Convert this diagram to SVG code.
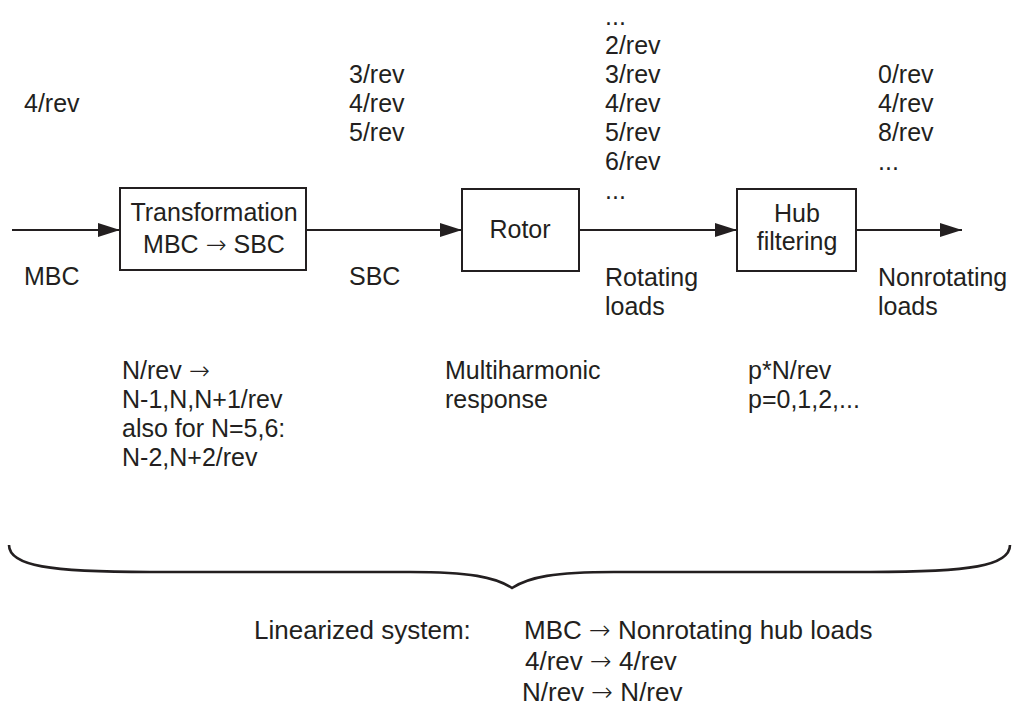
<svg xmlns="http://www.w3.org/2000/svg" width="1013" height="709" viewBox="0 0 1013 709">
<style>
text{font-family:"Liberation Sans",Arial,sans-serif;font-size:25px;fill:#231f20}
.c{text-anchor:middle}
.ar{font-family:"DejaVu Sans",sans-serif;font-weight:200}
.s{font-size:26px}
.box{fill:#fff;stroke:#231f20;stroke-width:2}
.ln{stroke:#231f20;stroke-width:2;fill:none}
</style>
<defs>
<marker id="ah" markerWidth="22" markerHeight="14" refX="22" refY="7" orient="auto" markerUnits="userSpaceOnUse">
<path d="M0,0 L22,7 L0,14 Z" fill="#231f20"/>
</marker>
</defs>
<rect width="1013" height="709" fill="#fff"/>
<g id="connectors">
<line class="ln" x1="12" y1="230" x2="120" y2="230" marker-end="url(#ah)"/>
<line class="ln" x1="306" y1="230" x2="462" y2="230" marker-end="url(#ah)"/>
<line class="ln" x1="579" y1="230" x2="737" y2="230" marker-end="url(#ah)"/>
<line class="ln" x1="856" y1="230" x2="962" y2="230" marker-end="url(#ah)"/>
</g>
<g id="transformation">
<rect class="box" x="120" y="188" width="186" height="82"/>
<text class="c" x="214" y="221">Transformation</text>
<text class="c" x="214" y="253">MBC <tspan class="ar">→</tspan> SBC</text>
</g>
<g id="rotor">
<rect class="box" x="462" y="189" width="117" height="82"/>
<text class="c" x="520" y="238">Rotor</text>
</g>
<g id="hub">
<rect class="box" x="737" y="189" width="119" height="82"/>
<text class="c" x="797" y="222">Hub</text>
<text class="c" x="797" y="250">filtering</text>
</g>
<g id="labels">
<text x="24" y="112">4/rev</text>
<text x="24" y="285">MBC</text>
<text x="349" y="83">3/rev</text>
<text x="349" y="112">4/rev</text>
<text x="349" y="141">5/rev</text>
<text x="349" y="285">SBC</text>
<text x="605" y="25">...</text>
<text x="605" y="54">2/rev</text>
<text x="605" y="83">3/rev</text>
<text x="605" y="112">4/rev</text>
<text x="605" y="141">5/rev</text>
<text x="605" y="170">6/rev</text>
<text x="605" y="199">...</text>
<text x="605" y="286">Rotating</text>
<text x="605" y="315">loads</text>
<text x="878" y="83">0/rev</text>
<text x="878" y="112">4/rev</text>
<text x="878" y="141">8/rev</text>
<text x="878" y="170">...</text>
<text x="878" y="286">Nonrotating</text>
<text x="878" y="315">loads</text>
<text x="122" y="379">N/rev <tspan class="ar">→</tspan></text>
<text x="122" y="408">N-1,N,N+1/rev</text>
<text x="122" y="437">also for N=5,6:</text>
<text x="122" y="466">N-2,N+2/rev</text>
<text x="445" y="379">Multiharmonic</text>
<text x="445" y="408">response</text>
<text x="748" y="379">p*N/rev</text>
<text x="748" y="408">p=0,1,2,...</text>
</g>
<g id="brace">
<path d="M 9 545 C 9 566, 50 572, 150 572 L 410 572 C 470 572, 495 577, 512 588 C 529 577, 554 572, 614 572 L 870 572 C 970 572, 1010 566, 1010 545" fill="none" stroke="#231f20" stroke-width="2.6"/>
</g>
<g id="summary">
<text class="s" x="254" y="639">Linearized system:</text>
<text class="s" x="524" y="639">MBC <tspan class="ar">→</tspan> Nonrotating hub loads</text>
<text class="s" x="525" y="670">4/rev <tspan class="ar">→</tspan> 4/rev</text>
<text class="s" x="522" y="701">N/rev <tspan class="ar">→</tspan> N/rev</text>
</g>
</svg>
